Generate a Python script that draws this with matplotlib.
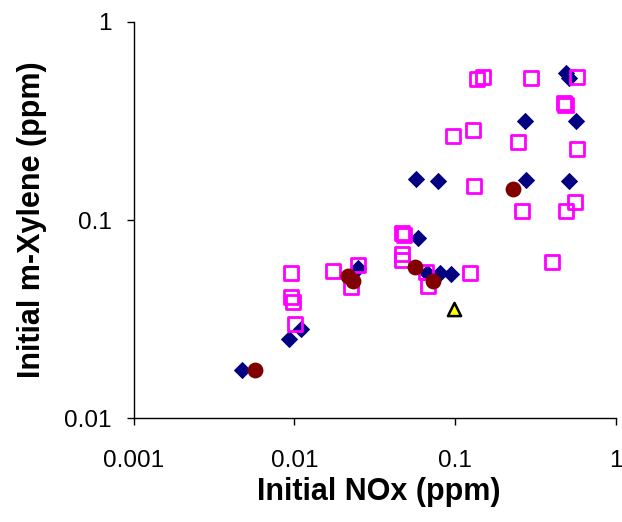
import matplotlib
matplotlib.use("Agg")
import matplotlib.pyplot as plt
from matplotlib.ticker import FixedLocator, FixedFormatter, NullLocator

plt.rcParams['font.family'] = ['Liberation Sans', 'DejaVu Sans']

# initial NOx / m-xylene (ppm), grouped by experiment set
diamond_nox = [0.00472, 0.00925, 0.0110, 0.0249, 0.0571, 0.0784, 0.0587, 0.0668,
               0.0805, 0.0944, 0.272, 0.565, 0.276, 0.512, 0.490, 0.512]
diamond_xyl = [0.0175, 0.0251, 0.0281, 0.0573, 0.161, 0.157, 0.0811, 0.054,
               0.054, 0.0534, 0.316, 0.316, 0.159, 0.157, 0.552, 0.521]

square_nox = [0.00953, 0.00953, 0.0098, 0.0101, 0.0174, 0.0249, 0.0225, 0.0468,
              0.0481, 0.0468, 0.0468, 0.0659, 0.0677, 0.124, 0.097, 0.129,
              0.137, 0.149, 0.296, 0.574, 0.476, 0.487, 0.246, 0.574,
              0.131, 0.261, 0.490, 0.557, 0.401]
square_xyl = [0.054, 0.0408, 0.0385, 0.0298, 0.0553, 0.0593, 0.0459, 0.0860,
              0.0840, 0.0673, 0.0628, 0.0546, 0.0464, 0.054, 0.266, 0.285,
              0.515, 0.528, 0.521, 0.528, 0.390, 0.381, 0.248, 0.228,
              0.1485, 0.111, 0.111, 0.123, 0.0614]

circle_nox = [0.00569, 0.0216, 0.0232, 0.0562, 0.0728, 0.229]
circle_xyl = [0.0175, 0.0521, 0.0492, 0.0579, 0.0492, 0.1435]

tri_nox = [0.098]
tri_xyl = [0.0355]

x_ticks = [0.001, 0.01, 0.1, 1]
x_labels = ['0.001', '0.01', '0.1', '1']
y_ticks = [0.01, 0.1, 1]
y_labels = ['0.01', '0.1', '1']

fig = plt.figure(figsize=(6.22, 5.22), dpi=100)
ax = fig.add_axes([0.215, 0.199, 0.775, 0.759])

ax.scatter(diamond_nox, diamond_xyl, marker='D', s=78, color='#000080',
           linewidths=0, zorder=3)
ax.scatter(square_nox, square_xyl, marker='s', s=110, facecolors='none',
           edgecolors='#FF00FF', linewidths=2, zorder=4)
ax.scatter(circle_nox, circle_xyl, marker='o', s=130, color='#800000',
           linewidths=0, zorder=5)
ax.scatter(tri_nox, tri_xyl, marker='^', s=90, facecolors='#FFFF00',
           edgecolors='black', linewidths=1.8, zorder=6)

ax.set_xscale('log')
ax.set_yscale('log')
ax.set_xlim(0.001, 1)
ax.set_ylim(0.01, 1)

ax.xaxis.set_major_locator(FixedLocator(x_ticks))
ax.xaxis.set_major_formatter(FixedFormatter(x_labels))
ax.yaxis.set_major_locator(FixedLocator(y_ticks))
ax.yaxis.set_major_formatter(FixedFormatter(y_labels))
ax.xaxis.set_minor_locator(NullLocator())
ax.yaxis.set_minor_locator(NullLocator())

for side in ['top', 'right']:
    ax.spines[side].set_visible(False)
for side in ['left', 'bottom']:
    ax.spines[side].set_linewidth(1.0)
ax.tick_params(direction='out', length=5, width=1, labelsize=17.5)
ax.tick_params(axis='x', pad=18)
ax.tick_params(axis='y', pad=11)

ax.set_xlabel('Initial NOx (ppm)', fontsize=22, fontweight='bold')
ax.set_ylabel('Initial m-Xylene (ppm)', fontsize=22, fontweight='bold')
ax.xaxis.set_label_coords(0.509, -0.148)
ax.yaxis.set_label_coords(-0.18, 0.5)

fig.savefig('out.png', dpi=100)
